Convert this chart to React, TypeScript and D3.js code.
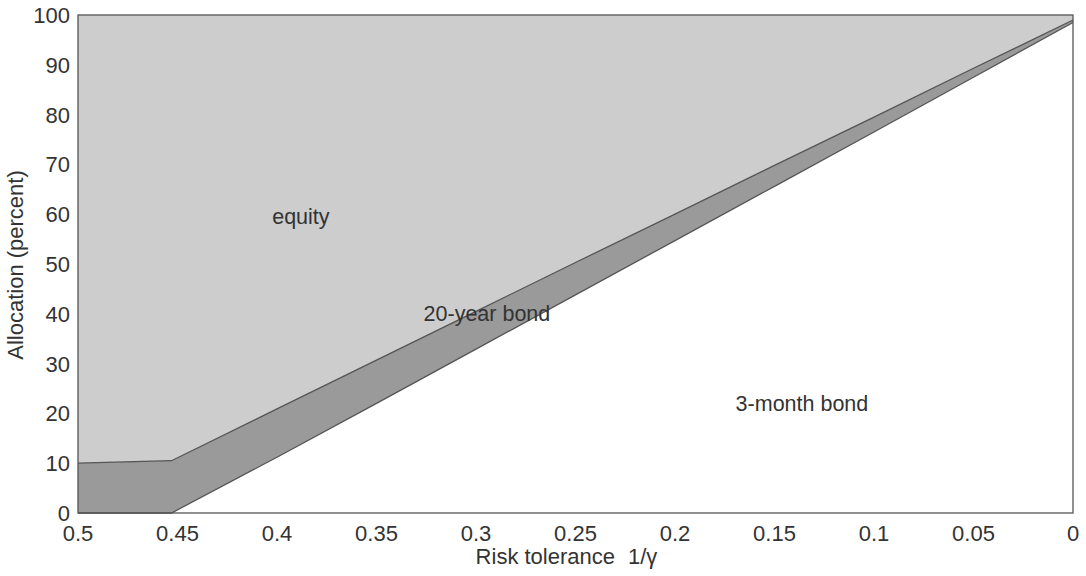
import React, { useEffect, useRef } from 'react';
import * as d3 from 'd3';

// risk tolerance 1/gamma (x), allocations in percent
const riskTolerance = [0.5, 0.453, 0.4, 0.35, 0.3, 0.25, 0.2, 0.15, 0.1, 0.05, 0];
const threeMonthBond = [0, 0, 11.2, 22.0, 32.9, 43.8, 54.7, 65.6, 76.5, 87.5, 98.5];
const twentyYearBond = [10, 10.5, 9.7, 8.7, 7.6, 6.5, 5.3, 4.2, 3.0, 1.8, 0.5];
const equity = [90, 89.5, 79.1, 69.3, 59.5, 49.7, 40.0, 30.2, 20.5, 10.7, 1.0];

const xTicks = [0.5, 0.45, 0.4, 0.35, 0.3, 0.25, 0.2, 0.15, 0.1, 0.05, 0];
const yTicks = [0, 10, 20, 30, 40, 50, 60, 70, 80, 90, 100];

const width = 1086;
const height = 576;
const margin = { top: 15, right: 13, bottom: 63, left: 78 };

const App: React.FC = () => {
  const svgRef = useRef<SVGSVGElement>(null);

  useEffect(() => {
    if (!svgRef.current) return;
    const svg = d3.select(svgRef.current);
    svg.selectAll('*').remove();

    const innerWidth = width - margin.left - margin.right;
    const innerHeight = height - margin.top - margin.bottom;
    const font = 'Liberation Sans, Arial, sans-serif';
    const textColor = '#333';

    const g = svg.append('g').attr('transform', `translate(${margin.left},${margin.top})`);

    const x = d3.scaleLinear().domain([0.5, 0]).range([0, innerWidth]);
    const y = d3.scaleLinear().domain([0, 100]).range([innerHeight, 0]);

    const rows = riskTolerance.map((r, i) => ({
      r,
      threeMonth: threeMonthBond[i],
      bond20: twentyYearBond[i],
      equity: equity[i],
    }));

    const series = d3.stack<any>().keys(['threeMonth', 'bond20', 'equity'])(rows);

    const fills: Record<string, string> = {
      threeMonth: '#ffffff',
      bond20: '#9a9a9a',
      equity: '#cdcdcd',
    };

    const area = d3
      .area<any>()
      .x((d) => x(d.data.r))
      .y0((d) => y(d[0]))
      .y1((d) => y(d[1]));

    // equity fills up to the top of the frame
    g.append('rect')
      .attr('width', innerWidth)
      .attr('height', innerHeight)
      .attr('fill', fills.equity);

    g.selectAll('.layer')
      .data(series.filter((s) => s.key !== 'equity'))
      .join('path')
      .attr('class', 'layer')
      .attr('d', area)
      .attr('fill', (s) => fills[s.key]);

    // boundary lines
    const line = d3
      .line<any>()
      .x((d) => x(d.data.r))
      .y((d) => y(d[1]));

    series
      .filter((s) => s.key !== 'equity')
      .forEach((s) => {
        g.append('path')
          .attr('d', line(s as any))
          .attr('fill', 'none')
          .attr('stroke', '#555')
          .attr('stroke-width', 1.3);
      });

    // frame
    g.append('rect')
      .attr('width', innerWidth)
      .attr('height', innerHeight)
      .attr('fill', 'none')
      .attr('stroke', '#555')
      .attr('stroke-width', 1.3);

    // tick labels
    g.append('g')
      .selectAll('text')
      .data(yTicks)
      .join('text')
      .attr('x', -8)
      .attr('y', (d) => y(d))
      .attr('dy', '0.36em')
      .attr('text-anchor', 'end')
      .attr('font-family', font)
      .attr('font-size', 22)
      .attr('fill', textColor)
      .text((d) => d);

    g.append('g')
      .selectAll('text')
      .data(xTicks)
      .join('text')
      .attr('x', (d) => x(d))
      .attr('y', innerHeight + 28)
      .attr('text-anchor', 'middle')
      .attr('font-family', font)
      .attr('font-size', 22)
      .attr('fill', textColor)
      .text((d) => String(d));

    // axis titles
    svg
      .append('text')
      .attr('x', 615)
      .attr('y', 564)
      .attr('text-anchor', 'end')
      .attr('font-family', font)
      .attr('font-size', 22)
      .attr('fill', textColor)
      .text('Risk tolerance');

    svg
      .append('text')
      .attr('x', 628)
      .attr('y', 564)
      .attr('text-anchor', 'start')
      .attr('font-family', font)
      .attr('font-size', 22)
      .attr('fill', textColor)
      .text('1/γ');

    svg
      .append('text')
      .attr('transform', 'translate(23,265) rotate(-90)')
      .attr('text-anchor', 'middle')
      .attr('font-family', font)
      .attr('font-size', 22)
      .attr('fill', textColor)
      .text('Allocation (percent)');

    // region labels
    const labels = [
      { text: 'equity', r: 0.388, v: 58 },
      { text: '20-year bond', r: 0.2945, v: 38.6 },
      { text: '3-month bond', r: 0.1362, v: 20.5 },
    ];
    g.selectAll('.region-label')
      .data(labels)
      .join('text')
      .attr('class', 'region-label')
      .attr('x', (d) => x(d.r))
      .attr('y', (d) => y(d.v))
      .attr('text-anchor', 'middle')
      .attr('font-family', font)
      .attr('font-size', 21.5)
      .attr('fill', textColor)
      .text((d) => d.text);
  }, []);

  return (
    <div style={{ position: 'absolute', left: 0, top: 0, background: '#fff' }}>
      <svg ref={svgRef} width={width} height={height} />
    </div>
  );
};

export default App;
